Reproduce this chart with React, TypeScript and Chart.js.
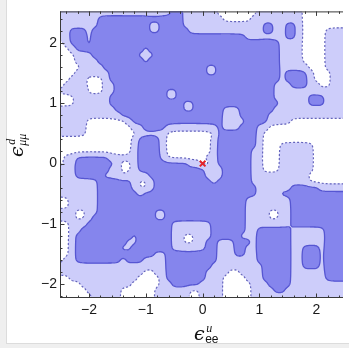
import React, { useEffect, useRef } from "react";
import { Chart, registerables } from "chart.js";

Chart.register(...registerables);

// grid coordinates (data units)
const xGrid = [-2.5, -2.4, -2.3, -2.2, -2.1, -2.0, -1.9, -1.8, -1.7, -1.6, -1.5, -1.4, -1.3, -1.2, -1.1, -1.0, -0.9, -0.8, -0.7, -0.6, -0.5, -0.4, -0.3, -0.2, -0.1, 0.0, 0.1, 0.2, 0.3, 0.4, 0.5, 0.6, 0.7, 0.8, 0.9, 1.0, 1.1, 1.2, 1.3, 1.4, 1.5, 1.6, 1.7, 1.8, 1.9, 2.0, 2.1, 2.2, 2.3, 2.4, 2.5];
const yGrid = [2.5, 2.4, 2.3, 2.2, 2.1, 2.0, 1.9, 1.8, 1.7, 1.6, 1.5, 1.4, 1.3, 1.2, 1.1, 1.0, 0.9, 0.8, 0.7, 0.6, 0.5, 0.4, 0.3, 0.2, 0.1, 0.0, -0.1, -0.2, -0.3, -0.4, -0.5, -0.6, -0.7, -0.8, -0.9, -1.0, -1.1, -1.2, -1.3, -1.4, -1.5, -1.6, -1.7, -1.8, -1.9, -2.0, -2.1, -2.2];

// confidence level per grid point (0 = excluded, 1 = outer region, 2 = inner region), run-length coded "level*count"
const levelRows = [
  "1*20,2*2,1*6,0*7,1*8,0*8",
  "1*7,2*15,1*7,0*5,1*9,0*8",
  "1*7,2*9,1*2,2*4,1*14,2*2,1*2,2*2,1*1,0*8",
  "1*2,2*3,1*1,2*6,1*1,2*3,1*2,2*5,1*13,2*2,1*2,2*2,1*1,0*4,1*4",
  "1*2,2*3,1*1,2*6,1*1,2*20,1*7,2*2,1*1,0*4,1*4",
  "0*1,1*1,2*3,1*1,2*33,1*4,0*4,1*4",
  "0*2,1*1,2*12,1*1,2*23,1*4,0*4,1*4",
  "0*3,1*3,2*8,1*3,2*22,1*4,0*4,1*4",
  "0*3,1*4,2*8,1*1,2*23,1*4,0*4,1*4",
  "0*4,1*4,2*18,1*2,2*11,1*5,0*3,1*4",
  "0*3,1*6,2*17,1*2,2*11,1*1,2*4,1*1,0*3,1*3",
  "0*2,1*3,0*3,1*1,2*30,1*1,2*4,1*1,0*3,1*3",
  "0*1,1*4,0*3,1*2,2*28,1*3,2*3,1*2,0*2,1*3",
  "1*3,2*2,0*3,1*2,2*9,1*2,2*17,1*13",
  "0*3,1*6,2*10,1*2,2*17,1*6,2*3,1*4",
  "0*3,1*6,2*13,1*2,2*11,1*1,2*3,1*5,2*3,1*4",
  "1*5,0*1,1*4,2*12,1*2,2*5,1*3,2*6,1*13",
  "1*11,2*18,1*3,2*5,1*14",
  "1*5,0*7,1*1,2*16,1*1,0*1,1*2,2*4,1*4,0*10",
  "1*5,0*8,1*2,2*4,1*9,2*1,1*3,2*3,1*2,0*14",
  "1*5,0*9,1*5,0*9,2*7,1*1,0*15",
  "0*13,1*1,2*4,1*1,0*8,1*1,2*7,1*1,0*15",
  "0*13,1*1,2*4,1*1,0*8,1*1,2*7,1*1,0*3,1*6,0*6",
  "0*13,1*1,2*4,1*1,0*8,1*1,2*6,1*2,0*3,1*6,0*6",
  "0*1,1*2,2*6,1*5,2*4,1*1,0*7,1*2,2*6,1*2,0*3,1*6,0*6",
  "0*1,1*2,2*7,1*1,0*2,1*1,2*9,1*2,0*2,1*1,2*6,1*2,0*3,1*6,0*6",
  "1*3,2*6,1*2,0*2,1*1,2*12,1*1,0*1,1*1,2*5,1*2,0*3,1*6,0*6",
  "1*3,2*5,1*3,0*1,1*4,2*10,1*1,0*1,1*1,2*5,1*10,0*7",
  "1*7,2*6,1*1,0*2,1*1,2*10,1*1,2*6,1*10,0*7",
  "1*7,2*6,1*1,0*2,1*1,2*18,1*6,2*5,1*5",
  "1*7,2*7,1*1,2*20,1*4,2*12",
  "0*2,1*5,2*26,1*8,2*10",
  "0*2,1*5,2*26,1*8,2*10",
  "1*3,0*2,1*2,2*7,1*1,2*2,1*2,2*14,1*4,0*2,1*2,2*10",
  "1*3,0*2,1*1,2*8,1*1,2*2,1*2,2*14,1*4,0*2,1*2,2*10",
  "0*2,1*3,2*15,1*7,2*6,1*8,2*10",
  "0*2,1*2,2*16,1*7,2*6,1*2,2*6,1*6,2*4",
  "0*2,1*1,2*10,1*1,2*6,1*2,0*2,1*3,2*5,1*3,2*6,1*6,2*4",
  "0*2,1*1,2*9,1*2,2*6,1*2,0*2,1*2,2*2,1*3,2*3,1*1,2*6,1*6,2*4",
  "0*2,1*1,2*8,1*2,2*7,1*6,2*2,1*3,2*2,1*2,2*6,1*2,2*3,1*1,2*4",
  "0*2,1*1,2*14,1*2,2*9,1*3,2*2,1*2,2*6,1*2,2*3,1*1,2*4",
  "0*1,1*2,2*8,1*1,2*3,1*4,2*9,1*7,2*6,1*2,2*3,1*1,2*4",
  "1*19,2*8,1*9,2*5,1*2,2*3,1*1,2*4",
  "1*15,0*2,1*2,2*7,1*4,0*2,1*4,2*5,1*6,2*4",
  "0*2,1*12,0*4,1*1,2*7,1*3,0*4,1*3,2*5,1*6,2*4",
  "0*4,1*9,0*5,1*2,2*5,1*4,0*5,1*3,2*4,1*10",
  "0*5,1*6,0*6,1*6,0*2,1*4,0*5,1*4,2*2,1*11",
  "0*6,1*5,0*6,1*6,0*2,1*4,0*5,1*17",
];

const majorTicks = [-2, -1, 0, 1, 2];
const minorTicks = [-2.4, -2.2, -1.8, -1.6, -1.4, -1.2, -0.8, -0.6, -0.4, -0.2, 0.2, 0.4, 0.6, 0.8, 1.2, 1.4, 1.6, 1.8, 2.2, 2.4];
const bestFitX = [0];
const bestFitY = [0];

const X_MIN = -2.51;
const X_MAX = 2.47;
const Y_MIN = -2.229;
const Y_MAX = 2.522;

const DARK = [133, 133, 237];
const LIGHT = [205, 205, 250];
const WHITE = [255, 255, 255];
const SOLID_LINE = "rgba(86, 86, 210, 1)";
const DASH_LINE = "rgba(100, 100, 188, 1)";
const FRAME = "#3a3a3a";
const SUB = 4; // rendering subdivisions per grid cell
const SIGMA = 1.0; // smoothing (in grid cells)
const SMOOTH_MIX = 0.75;

function decodeRow(s: string, n: number): number[] {
  const out: number[] = [];
  s.split(",").forEach((p) => {
    const [v, c] = p.split("*").map(Number);
    for (let k = 0; k < c; k++) out.push(v);
  });
  while (out.length < n) out.push(out[out.length - 1]);
  return out.slice(0, n);
}

function cr(t: number): number[] {
  const t2 = t * t, t3 = t2 * t;
  return [(-t3 + 2 * t2 - t) / 2, (3 * t3 - 5 * t2 + 2) / 2, (-3 * t3 + 4 * t2 + t) / 2, (t3 - t2) / 2];
}

function gaussWeights(u: number, n: number): [number, number][] {
  const out: [number, number][] = [];
  let s = 0;
  for (let k = Math.floor(u) - 4; k <= Math.ceil(u) + 4; k++) {
    const w = Math.exp(-((k - u) * (k - u)) / (2 * SIGMA * SIGMA));
    out.push([Math.max(0, Math.min(n - 1, k)), w]);
    s += w;
  }
  return out.map(([k, w]) => [k, w / s] as [number, number]);
}

// smooth field on a finer lattice: Catmull-Rom blended with a Gaussian-smoothed copy
function buildFine(levels: number[][]) {
  const ny = levels.length, nx = levels[0].length;
  const fnx = (nx - 1) * SUB + 1, fny = (ny - 1) * SUB + 1;
  const dx = xGrid[1] - xGrid[0], dy = yGrid[1] - yGrid[0];
  const fx: number[] = [], fy: number[] = [];
  for (let i = 0; i < fnx; i++) fx.push(xGrid[0] + (i / SUB) * dx);
  for (let j = 0; j < fny; j++) fy.push(yGrid[0] + (j / SUB) * dy);
  const g = (j: number, i: number) => levels[Math.max(0, Math.min(ny - 1, j))][Math.max(0, Math.min(nx - 1, i))];
  const wxs = fx.map((_, i) => gaussWeights(i / SUB, nx));
  const wys = fy.map((_, j) => gaussWeights(j / SUB, ny));
  const H = levels.map((row) => wxs.map((ws) => ws.reduce((acc, [k, w]) => acc + w * row[k], 0)));
  const F: number[][] = [];
  for (let j = 0; j < fny; j++) {
    const row: number[] = [];
    const J = Math.min(ny - 2, Math.floor(j / SUB));
    const ty = j / SUB - J;
    const wy = cr(ty);
    for (let i = 0; i < fnx; i++) {
      const I = Math.min(nx - 2, Math.floor(i / SUB));
      const tx = i / SUB - I;
      const wx = cr(tx);
      let c = 0;
      for (let a = 0; a < 4; a++) {
        let r = 0;
        for (let b = 0; b < 4; b++) r += wx[b] * g(J - 1 + a, I - 1 + b);
        c += wy[a] * r;
      }
      let gs = 0;
      wys[j].forEach(([k, w]) => {
        gs += w * H[k][i];
      });
      row.push((1 - SMOOTH_MIX) * c + SMOOTH_MIX * gs);
    }
    F.push(row);
  }
  return { F, fx, fy };
}

function sampleFine(F: number[][], fx: number[], fy: number[], x: number, y: number): number {
  const nx = fx.length, ny = fy.length;
  const dx = fx[1] - fx[0], dy = fy[1] - fy[0];
  let fi = (x - fx[0]) / dx;
  let fj = (y - fy[0]) / dy;
  fi = Math.max(0, Math.min(nx - 1.0001, fi));
  fj = Math.max(0, Math.min(ny - 1.0001, fj));
  const i = Math.floor(fi), j = Math.floor(fj);
  const tx = fi - i, ty = fj - j;
  return F[j][i] * (1 - tx) * (1 - ty) + F[j][i + 1] * tx * (1 - ty) + F[j + 1][i] * (1 - tx) * ty + F[j + 1][i + 1] * tx * ty;
}

function contourChains(grid: number[][], gx: number[], gy: number[], level: number): [number, number][][] {
  const ny = grid.length, nx = grid[0].length;
  const pts = new Map<string, [number, number]>();
  const segs: [string, string][] = [];
  const frac = (a: number, b: number) => (b === a ? 0.5 : (level - a) / (b - a));
  const addH = (i: number, j: number) => {
    const k = "h" + i + "_" + j;
    if (!pts.has(k)) {
      const t = frac(grid[j][i], grid[j][i + 1]);
      pts.set(k, [gx[i] + t * (gx[i + 1] - gx[i]), gy[j]]);
    }
    return k;
  };
  const addV = (i: number, j: number) => {
    const k = "v" + i + "_" + j;
    if (!pts.has(k)) {
      const t = frac(grid[j][i], grid[j + 1][i]);
      pts.set(k, [gx[i], gy[j] + t * (gy[j + 1] - gy[j])]);
    }
    return k;
  };
  for (let j = 0; j < ny - 1; j++) {
    for (let i = 0; i < nx - 1; i++) {
      const vtl = grid[j][i], vtr = grid[j][i + 1], vbr = grid[j + 1][i + 1], vbl = grid[j + 1][i];
      const tl = vtl >= level, tr = vtr >= level, br = vbr >= level, bl = vbl >= level;
      const top = tl !== tr, right = tr !== br, bottom = bl !== br, left = tl !== bl;
      const n = (top ? 1 : 0) + (right ? 1 : 0) + (bottom ? 1 : 0) + (left ? 1 : 0);
      if (n === 0) continue;
      if (n === 2) {
        const e: string[] = [];
        if (top) e.push(addH(i, j));
        if (right) e.push(addV(i + 1, j));
        if (bottom) e.push(addH(i, j + 1));
        if (left) e.push(addV(i, j));
        segs.push([e[0], e[1]]);
      } else if (n === 4) {
        const centerAbove = (vtl + vtr + vbr + vbl) / 4 >= level;
        const T = addH(i, j), R = addV(i + 1, j), B = addH(i, j + 1), L = addV(i, j);
        if (tl === centerAbove) {
          segs.push([T, R]);
          segs.push([B, L]);
        } else {
          segs.push([L, T]);
          segs.push([R, B]);
        }
      }
    }
  }
  const adj = new Map<string, number[]>();
  segs.forEach((s, idx) => {
    s.forEach((k) => {
      if (!adj.has(k)) adj.set(k, []);
      adj.get(k)!.push(idx);
    });
  });
  const used = new Array(segs.length).fill(false);
  const chains: [number, number][][] = [];
  for (let s = 0; s < segs.length; s++) {
    if (used[s]) continue;
    used[s] = true;
    const chain = [segs[s][0], segs[s][1]];
    let cur = chain[chain.length - 1];
    for (;;) {
      const nxt = (adj.get(cur) || []).find((q) => !used[q]);
      if (nxt === undefined) break;
      used[nxt] = true;
      const o = segs[nxt][0] === cur ? segs[nxt][1] : segs[nxt][0];
      chain.push(o);
      cur = o;
    }
    cur = chain[0];
    for (;;) {
      const nxt = (adj.get(cur) || []).find((q) => !used[q]);
      if (nxt === undefined) break;
      used[nxt] = true;
      const o = segs[nxt][0] === cur ? segs[nxt][1] : segs[nxt][0];
      chain.unshift(o);
      cur = o;
    }
    chains.push(chain.map((k) => pts.get(k)!));
  }
  return chains;
}

const pagePlugin = {
  id: "page",
  beforeDraw(chart: any) {
    const { ctx, width, height } = chart;
    ctx.save();
    ctx.fillStyle = "#ffffff";
    ctx.fillRect(0, 0, width, height);
    ctx.fillStyle = "#efefef";
    ctx.fillRect(0, 0, 6, height);
    ctx.fillRect(0, 344, width, height - 344);
    ctx.strokeStyle = "#dcdcdc";
    ctx.lineWidth = 1;
    ctx.beginPath();
    ctx.moveTo(6.5, 0);
    ctx.lineTo(6.5, 344);
    ctx.moveTo(6, 343.5);
    ctx.lineTo(width, 343.5);
    ctx.stroke();
    ctx.restore();
  },
};

const contourPlugin = {
  id: "contour",
  beforeDatasetsDraw(chart: any) {
    const { ctx, chartArea: a, scales } = chart;
    const xs = scales.x, ys = scales.y;
    const levels = levelRows.map((r) => decodeRow(r, xGrid.length));
    const { F, fx, fy } = buildFine(levels);
    const w = Math.round(a.right - a.left);
    const h = Math.round(a.bottom - a.top);
    const off = document.createElement("canvas");
    off.width = w;
    off.height = h;
    const octx = off.getContext("2d")!;
    const img = octx.createImageData(w, h);
    for (let py = 0; py < h; py++) {
      const y = ys.getValueForPixel(a.top + py + 0.5);
      for (let px = 0; px < w; px++) {
        const x = xs.getValueForPixel(a.left + px + 0.5);
        const v = sampleFine(F, fx, fy, x, y);
        const c = v >= 1.5 ? DARK : v >= 0.5 ? LIGHT : WHITE;
        const o = (py * w + px) * 4;
        img.data[o] = c[0];
        img.data[o + 1] = c[1];
        img.data[o + 2] = c[2];
        img.data[o + 3] = 255;
      }
    }
    octx.putImageData(img, 0, 0);
    ctx.save();
    ctx.drawImage(off, a.left, a.top);
    ctx.beginPath();
    ctx.rect(a.left, a.top, a.right - a.left, a.bottom - a.top);
    ctx.clip();
    const drawLevel = (level: number, color: string, dash: number[], lw: number) => {
      ctx.strokeStyle = color;
      ctx.lineWidth = lw;
      ctx.setLineDash(dash);
      ctx.lineJoin = "round";
      ctx.lineCap = "butt";
      contourChains(F, fx, fy, level).forEach((ch) => {
        ctx.beginPath();
        ch.forEach((p, k) => {
          const X = xs.getPixelForValue(p[0]);
          const Y = ys.getPixelForValue(p[1]);
          if (k === 0) ctx.moveTo(X, Y);
          else ctx.lineTo(X, Y);
        });
        ctx.stroke();
      });
    };
    drawLevel(0.5, DASH_LINE, [2, 2], 1.2);
    drawLevel(1.5, SOLID_LINE, [], 1.3);
    ctx.restore();
  },
};

const framePlugin = {
  id: "frame",
  afterDraw(chart: any) {
    const { ctx, chartArea: a, scales } = chart;
    const xs = scales.x, ys = scales.y;
    ctx.save();
    ctx.strokeStyle = FRAME;
    ctx.lineWidth = 1;
    ctx.beginPath();
    ctx.moveTo(a.left + 0.5, a.top);
    ctx.lineTo(a.left + 0.5, a.bottom);
    ctx.moveTo(a.left, a.bottom - 0.5);
    ctx.lineTo(a.right, a.bottom - 0.5);
    ctx.moveTo(a.left, a.top + 0.5);
    ctx.lineTo(a.right, a.top + 0.5);
    const tick = (vals: number[], len: number) => {
      vals.forEach((v) => {
        const X = Math.round(xs.getPixelForValue(v)) + 0.5;
        ctx.moveTo(X, a.bottom);
        ctx.lineTo(X, a.bottom - len);
        ctx.moveTo(X, a.top);
        ctx.lineTo(X, a.top + len);
        const Y = Math.round(ys.getPixelForValue(v)) + 0.5;
        if (Y > a.top && Y < a.bottom) {
          ctx.moveTo(a.left, Y);
          ctx.lineTo(a.left + len, Y);
        }
      });
    };
    tick(majorTicks, 4.5);
    tick(minorTicks, 2.5);
    ctx.stroke();

    // axis labels
    ctx.fillStyle = "#111";
    ctx.textBaseline = "alphabetic";
    ctx.textAlign = "left";
    const drawLabel = (sup: string, sub: string, subItalic: boolean) => {
      ctx.font = 'italic 19px "DejaVu Serif", "Liberation Serif", serif';
      ctx.fillText("\u03F5", 0, 0);
      const ew = ctx.measureText("\u03F5").width;
      ctx.font = 'italic 12px "Liberation Serif", "DejaVu Serif", serif';
      ctx.fillText(sup, ew + 1.5, -8);
      ctx.font = subItalic ? 'italic 12px "Liberation Serif", "DejaVu Serif", serif' : '12px "Liberation Sans", Arial, sans-serif';
      ctx.fillText(sub, ew + 0.5, 3);
    };
    ctx.save();
    ctx.translate(194, 340);
    drawLabel("u", "ee", false);
    ctx.restore();

    ctx.save();
    ctx.translate(23, 157);
    ctx.rotate(-Math.PI / 2);
    drawLabel("d", "\u03BC\u03BC", true);
    ctx.restore();
    ctx.restore();
  },
};

const fmt = (v: number) => (v < 0 ? "\u2212" + Math.abs(v) : String(v));

export default function App() {
  const ref = useRef<HTMLCanvasElement | null>(null);
  useEffect(() => {
    if (!ref.current) return;
    const chart = new Chart(ref.current, {
      type: "scatter",
      data: {
        datasets: [
          {
            label: "best fit",
            data: bestFitX.map((x, i) => ({ x, y: bestFitY[i] })),
            pointStyle: "crossRot",
            pointRadius: 4,
            pointBorderWidth: 2,
            borderColor: "#e3242b",
            backgroundColor: "#e3242b",
          },
        ],
      },
      options: {
        animation: false,
        responsive: false,
        events: [],
        layout: { padding: { top: 7, left: 0, right: 0, bottom: 0 } },
        plugins: { legend: { display: false }, tooltip: { enabled: false } },
        scales: {
          x: {
            type: "linear",
            min: X_MIN,
            max: X_MAX,
            afterBuildTicks: (s: any) => {
              s.ticks = majorTicks.map((v) => ({ value: v }));
            },
            afterFit: (s: any) => {
              s.height = 50;
            },
            grid: { display: false, drawTicks: false },
            border: { display: false },
            ticks: {
              padding: 4,
              autoSkip: false,
              maxRotation: 0,
              color: "#1a1a1a",
              font: { family: '"Liberation Sans", Arial, sans-serif', size: 14 },
              callback: (v: any) => fmt(Number(v)),
            },
          },
          y: {
            type: "linear",
            min: Y_MIN,
            max: Y_MAX,
            afterBuildTicks: (s: any) => {
              s.ticks = majorTicks.map((v) => ({ value: v }));
            },
            afterFit: (s: any) => {
              s.width = 60;
            },
            grid: { display: false, drawTicks: false },
            border: { display: false },
            ticks: {
              padding: 3,
              autoSkip: false,
              color: "#1a1a1a",
              font: { family: '"Liberation Sans", Arial, sans-serif', size: 14 },
              callback: (v: any) => fmt(Number(v)),
            },
          },
        },
      },
      plugins: [pagePlugin, contourPlugin, framePlugin],
    });
    return () => chart.destroy();
  }, []);
  return (
    <div style={{ position: "fixed", left: 0, top: 0, width: 349, height: 348 }}>
      <canvas ref={ref} width={349} height={348} style={{ display: "block", width: 349, height: 348 }} />
    </div>
  );
}
